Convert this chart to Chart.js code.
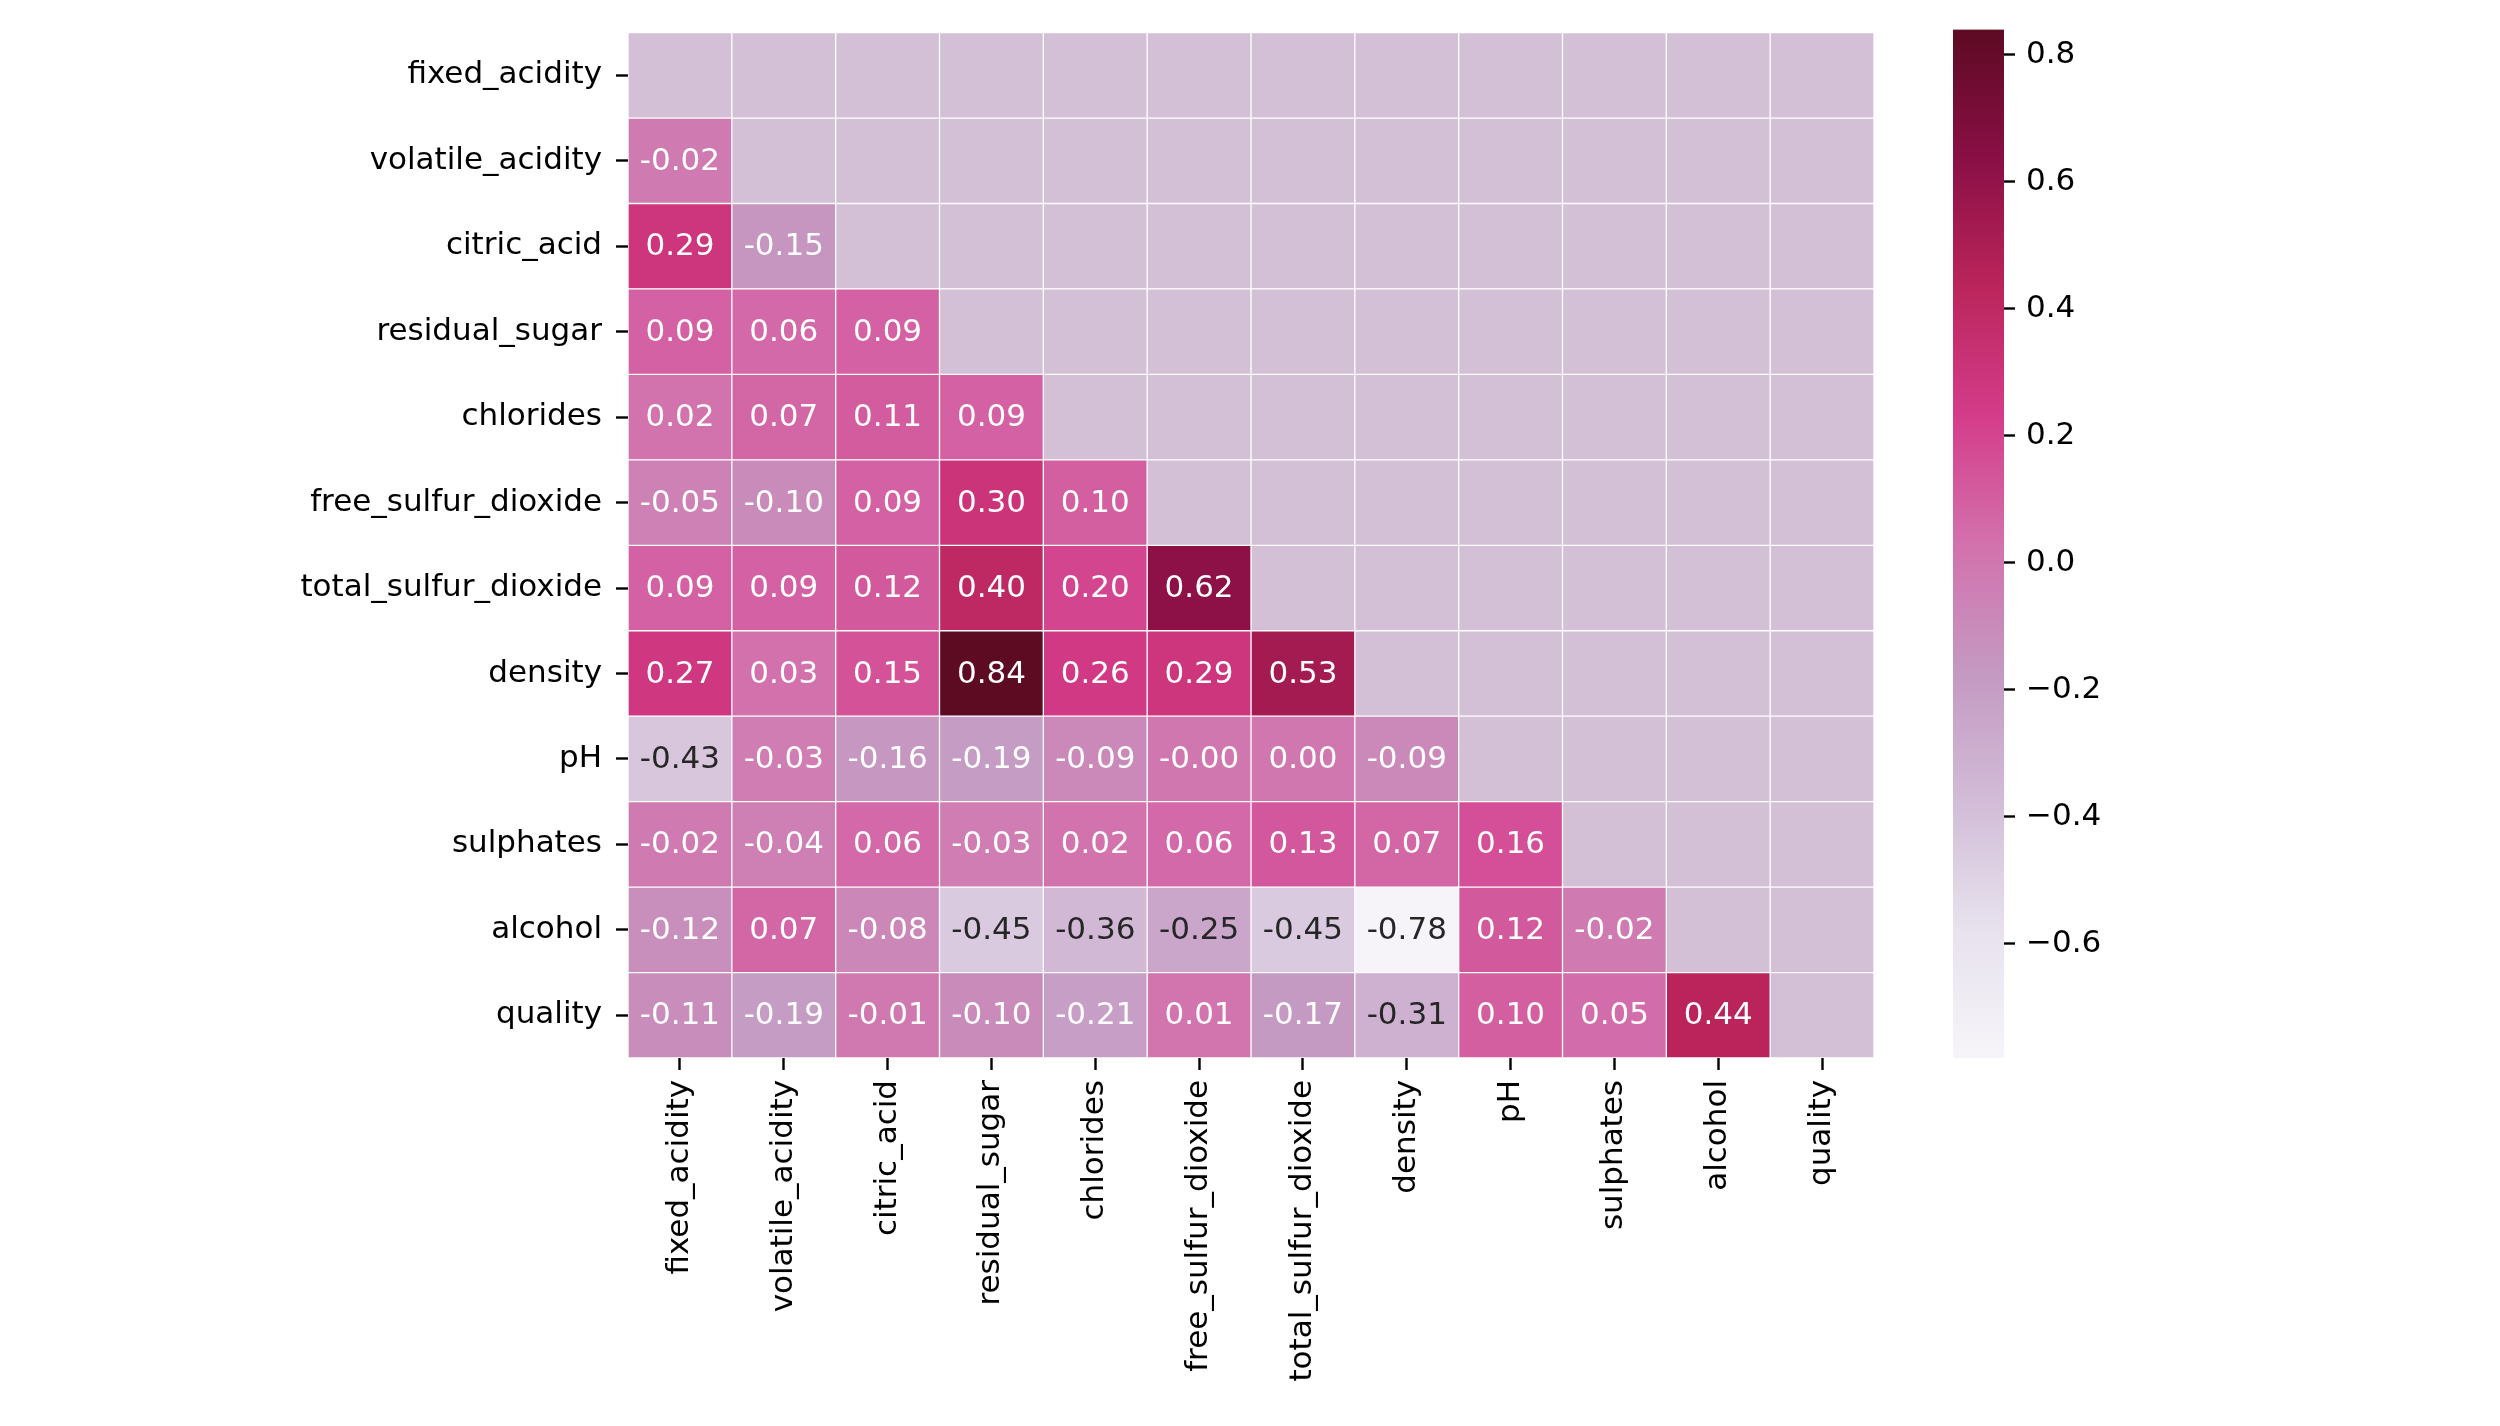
<!DOCTYPE html>
<html>
<head>
<meta charset="utf-8">
<script src="https://cdn.jsdelivr.net/npm/chart.js@4.4.1/dist/chart.umd.min.js"></script>
<style>
body { margin: 0; background: #fff; }
canvas { position: absolute; left: 0; top: 0; }
</style>
</head>
<body>
<canvas id="heat" width="2500" height="1426"></canvas>
<canvas id="cbar" width="2500" height="1426"></canvas>
<script>
// feature names (rows and columns)
var features = ['fixed_acidity', 'volatile_acidity', 'citric_acid', 'residual_sugar',
    'chlorides', 'free_sulfur_dioxide', 'total_sulfur_dioxide', 'density',
    'pH', 'sulphates', 'alcohol', 'quality'];

// lower triangle of the correlation matrix, one row each
var r_fixed_acidity = [];
var r_volatile_acidity = [-0.02];
var r_citric_acid = [0.29, -0.15];
var r_residual_sugar = [0.09, 0.06, 0.09];
var r_chlorides = [0.02, 0.07, 0.11, 0.09];
var r_free_sulfur_dioxide = [-0.05, -0.10, 0.09, 0.30, 0.10];
var r_total_sulfur_dioxide = [0.09, 0.09, 0.12, 0.40, 0.20, 0.62];
var r_density = [0.27, 0.03, 0.15, 0.84, 0.26, 0.29, 0.53];
var r_pH = [-0.43, -0.03, -0.16, -0.19, -0.09, -0.001, 0.00, -0.09];
var r_sulphates = [-0.02, -0.04, 0.06, -0.03, 0.02, 0.06, 0.13, 0.07, 0.16];
var r_alcohol = [-0.12, 0.07, -0.08, -0.45, -0.36, -0.25, -0.45, -0.78, 0.12, -0.02];
var r_quality = [-0.11, -0.19, -0.01, -0.10, -0.21, 0.01, -0.17, -0.31, 0.10, 0.05, 0.44];

var cbarTicks = [-0.6, -0.4, -0.2, 0.0, 0.2, 0.4, 0.6, 0.8];

var corr = [r_fixed_acidity, r_volatile_acidity, r_citric_acid, r_residual_sugar,
    r_chlorides, r_free_sulfur_dioxide, r_total_sulfur_dioxide, r_density,
    r_pH, r_sulphates, r_alcohol, r_quality];

var all = [].concat.apply([], corr);
var vmin = Math.min.apply(null, all);
var vmax = Math.max.apply(null, all);

// PuRd, desaturated a bit
var puRdHex = ['#f7f4f9', '#e7e1ef', '#d4b9da', '#c994c7', '#df65b0', '#e7298a', '#ce1256', '#980043', '#67001f'];
var DESAT = 0.8;
var maskColor = '#d3bfd6';
var FONT = 'DejaVu Sans';
var FSIZE = 31;

function hexRgb(h) {
    return [parseInt(h.substr(1, 2), 16), parseInt(h.substr(3, 2), 16), parseInt(h.substr(5, 2), 16)];
}
function desat(rgb, f) {
    var r = rgb[0] / 255, g = rgb[1] / 255, b = rgb[2] / 255;
    var mx = Math.max(r, g, b), mn = Math.min(r, g, b);
    var l = (mx + mn) / 2;
    if (mx === mn) return rgb;
    var d = mx - mn;
    var s = l > 0.5 ? d / (2 - mx - mn) : d / (mx + mn);
    var h;
    if (mx === r) h = ((g - b) / d + 6) % 6;
    else if (mx === g) h = (b - r) / d + 2;
    else h = (r - g) / d + 4;
    h /= 6;
    s *= f;
    var q = l < 0.5 ? l * (1 + s) : l + s - l * s;
    var p = 2 * l - q;
    function hue(t) {
        if (t < 0) t += 1;
        if (t > 1) t -= 1;
        if (t < 1 / 6) return p + (q - p) * 6 * t;
        if (t < 1 / 2) return q;
        if (t < 2 / 3) return p + (q - p) * (2 / 3 - t) * 6;
        return p;
    }
    return [hue(h + 1 / 3), hue(h), hue(h - 1 / 3)].map(function (x) { return Math.round(x * 255); });
}
var puRd = puRdHex.map(function (h) { return desat(hexRgb(h), DESAT); });

function cmap(v) {
    var t = (v - vmin) / (vmax - vmin);
    t = Math.max(0, Math.min(1, t)) * (puRd.length - 1);
    var i = Math.min(Math.floor(t), puRd.length - 2);
    var f = t - i;
    var a = puRd[i], b = puRd[i + 1];
    return [0, 1, 2].map(function (k) { return Math.round(a[k] + (b[k] - a[k]) * f); });
}
function lum(rgb) {
    var c = rgb.map(function (x) {
        x = x / 255;
        return x <= 0.03928 ? x / 12.92 : Math.pow((x + 0.055) / 1.055, 2.4);
    });
    return 0.2126 * c[0] + 0.7152 * c[1] + 0.0722 * c[2];
}

// one stacked dataset per column
var datasets = features.map(function (col, j) {
    return {
        label: col,
        data: features.map(function () { return 1; }),
        backgroundColor: features.map(function (row, i) {
            if (j >= i) return maskColor;
            return 'rgb(' + cmap(corr[i][j]).join(',') + ')';
        }),
        borderColor: '#ffffff',
        borderWidth: 1,
        borderSkipped: false,
        barPercentage: 1,
        categoryPercentage: 1
    };
});

var annotate = {
    id: 'annotate',
    afterDatasetsDraw: function (chart) {
        var ctx = chart.ctx;
        ctx.save();
        ctx.font = FSIZE + 'px "' + FONT + '"';
        ctx.textAlign = 'center';
        ctx.textBaseline = 'middle';
        chart.data.datasets.forEach(function (ds, j) {
            chart.getDatasetMeta(j).data.forEach(function (bar, i) {
                if (j >= i) return;
                var v = corr[i][j];
                var p = bar.getCenterPoint();
                ctx.fillStyle = lum(cmap(v)) > 0.425 ? '#262626' : '#ffffff';
                ctx.fillText(v.toFixed(2), p.x, p.y + 1);
            });
        });
        ctx.restore();
    }
};

new Chart(document.getElementById('heat'), {
    type: 'bar',
    data: { labels: features, datasets: datasets },
    options: {
        indexAxis: 'y',
        responsive: false,
        animation: false,
        layout: { padding: { top: 25, right: 626, left: 0, bottom: 0 } },
        plugins: { legend: { display: false }, tooltip: { enabled: false } },
        scales: {
            x: {
                type: 'linear',
                stacked: true,
                min: 0,
                max: 12,
                border: { display: false },
                grid: { drawOnChartArea: false, tickLength: 12, tickColor: '#000', tickWidth: 2.4 },
                afterBuildTicks: function (s) {
                    s.ticks = features.map(function (f, i) { return { value: i + 0.5 }; });
                },
                afterFit: function (s) { s.height = 368; },
                ticks: {
                    autoSkip: false,
                    minRotation: 90,
                    maxRotation: 90,
                    padding: 10,
                    color: '#000',
                    font: { family: FONT, size: FSIZE },
                    callback: function (v, i) { return features[i]; }
                }
            },
            y: {
                stacked: true,
                border: { display: false },
                grid: { drawOnChartArea: false, offset: false, tickLength: 12, tickColor: '#000', tickWidth: 2.4 },
                afterFit: function (s) { s.width = 628; },
                ticks: {
                    padding: 14,
                    color: '#000',
                    font: { family: FONT, size: FSIZE }
                }
            }
        }
    },
    plugins: [annotate]
});

// colorbar
new Chart(document.getElementById('cbar'), {
    type: 'bar',
    data: {
        labels: [''],
        datasets: [{
            data: [[vmin, vmax]],
            borderWidth: 0,
            barPercentage: 1,
            categoryPercentage: 1,
            backgroundColor: function (c) {
                var area = c.chart.chartArea;
                if (!area) return 'rgb(' + puRd[4].join(',') + ')';
                var g = c.chart.ctx.createLinearGradient(0, area.bottom, 0, area.top);
                puRd.forEach(function (col, k) {
                    g.addColorStop(k / (puRd.length - 1), 'rgb(' + col.join(',') + ')');
                });
                return g;
            }
        }]
    },
    options: {
        responsive: false,
        animation: false,
        layout: { padding: { top: 24, left: 1953, right: 0, bottom: 368 } },
        plugins: { legend: { display: false }, tooltip: { enabled: false } },
        scales: {
            x: { display: false },
            y: {
                position: 'right',
                min: vmin,
                max: vmax,
                border: { display: false },
                grid: { drawOnChartArea: false, tickLength: 11, tickColor: '#000', tickWidth: 2.4 },
                afterBuildTicks: function (s) {
                    s.ticks = cbarTicks.map(function (v) { return { value: v }; });
                },
                afterFit: function (s) { s.width = 496; },
                ticks: {
                    padding: 11,
                    color: '#000',
                    font: { family: FONT, size: FSIZE },
                    callback: function (v) { return (v < -1e-9 ? '\u2212' : '') + Math.abs(v).toFixed(1); }
                }
            }
        }
    }
});
</script>
</body>
</html>
